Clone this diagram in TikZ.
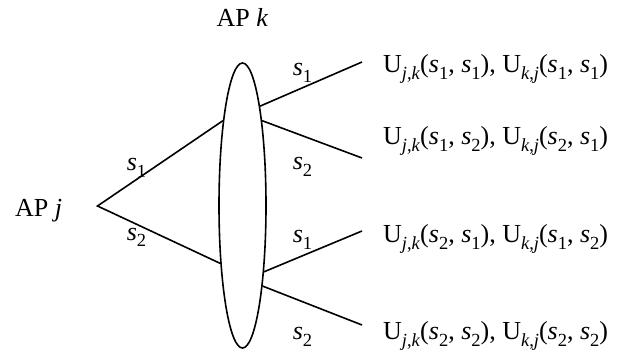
\documentclass[tikz,border=0pt]{standalone}
\usepackage{fontspec}
\setmainfont{Liberation Serif}
\usepackage{tikz}
\usetikzlibrary{shapes.geometric}

\newcommand{\lo}[1]{\raisebox{-0.24em}{\fontsize{18.5}{18.5}\selectfont #1}}
\newcommand{\sv}[1]{\textit{s}\lo{#1}}
\newcommand{\utl}[4]{U\lo{\textit{#1},\textit{#2}}(\sv{#3}, \sv{#4})}

\begin{document}
\begin{tikzpicture}[x=1pt, y=-1pt, font=\fontsize{26}{31}\selectfont,
    lens/.style={ellipse, draw, line width=1.6pt, inner sep=0pt, minimum width=47pt, minimum height=285pt},
    branch/.style={line width=1.6pt},
    lbl/.style={anchor=base, inner sep=0pt},
    util/.style={anchor=base west, inner sep=0pt}]

    \useasboundingbox (0,0) rectangle (618,352);

    \node (apk) [lens] at (242.5,205.5) {};
    \node (apklabel) [lbl] at (242.5,27) {AP \textit{k}};
    \node (apj) [lbl] at (38.5,217) {AP \textit{j}};
    \coordinate (fork) at (97.5,206);

    \coordinate (e1) at (362,62);
    \coordinate (e2) at (362,158);
    \coordinate (e3) at (362,231);
    \coordinate (e4) at (362,325);

    \node (u1) [util] at (383,73) {\utl{j}{k}{1}{1}, \utl{k}{j}{1}{1}};
    \node (u2) [util] at (383,145) {\utl{j}{k}{1}{2}, \utl{k}{j}{2}{1}};
    \node (u3) [util] at (383,243) {\utl{j}{k}{2}{1}, \utl{k}{j}{1}{2}};
    \node (u4) [util] at (383,340) {\utl{j}{k}{2}{2}, \utl{k}{j}{2}{2}};

    \node (ls1) [lbl] at (136.5,171) {\sv{1}};
    \node (ls2) [lbl] at (136.5,240.5) {\sv{2}};
    \node (rs1) [lbl] at (302.5,76) {\sv{1}};
    \node (rs2) [lbl] at (302.5,170) {\sv{2}};
    \node (rs3) [lbl] at (302.5,243) {\sv{1}};
    \node (rs4) [lbl] at (302.5,340) {\sv{2}};

    \draw [branch] (apk.103.5) -- (fork) -- (apk.249.9);

    \draw [branch] (apk.80.7) -- (e1);
    \draw [branch] (apk.77.7) -- (e2);
    \draw [branch] (apk.288.1) -- (e3);
    \draw [branch] (apk.284.1) -- (e4);
\end{tikzpicture}
\end{document}
